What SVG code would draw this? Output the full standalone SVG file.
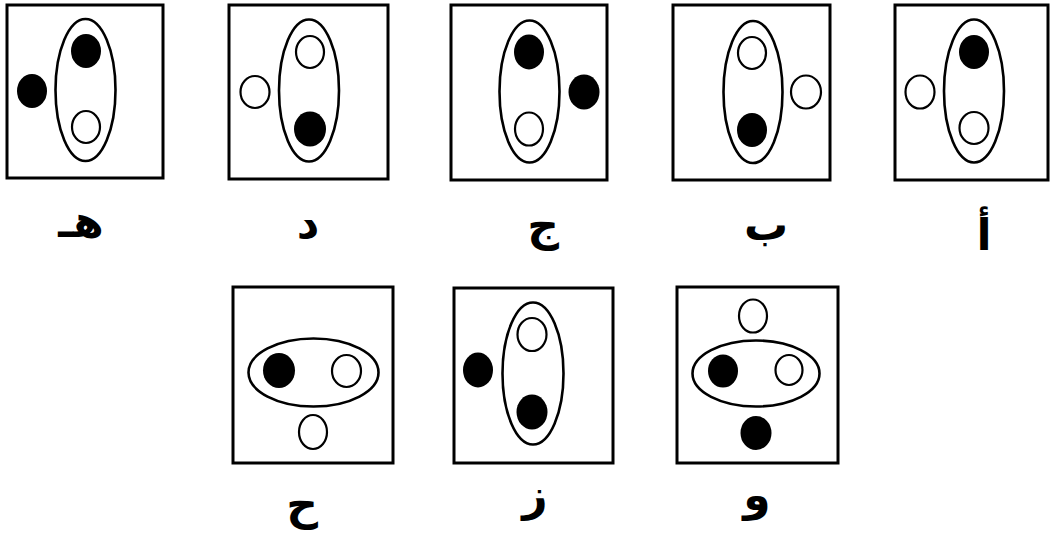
<svg xmlns="http://www.w3.org/2000/svg" width="1050" height="540" viewBox="0 0 1050 540">
<style>
.box{fill:#fff;stroke:#000;stroke-width:3}
.ring{fill:none;stroke:#000;stroke-width:2.6}
.o{fill:#fff;stroke:#000;stroke-width:2.2}
.f{fill:#000}
.lbl{font-family:"DejaVu Sans",sans-serif;font-weight:bold;font-size:44px;text-anchor:middle;fill:#000}
</style>
<rect width="1050" height="540" fill="#fff"/>
<g id="node-he">
<rect class="box" x="7" y="5" width="156" height="173"/>
<ellipse class="ring" cx="85.5" cy="90" rx="30" ry="71"/>
<ellipse class="f" cx="86" cy="51" rx="15" ry="17"/>
<ellipse class="o" cx="86" cy="127" rx="14" ry="16"/>
<ellipse class="f" cx="32" cy="91" rx="15" ry="17"/>
<text class="lbl" x="81" y="237">هـ</text>
</g>
<g id="node-dal">
<rect class="box" x="229" y="5" width="159" height="174"/>
<ellipse class="ring" cx="309" cy="90.5" rx="30" ry="71"/>
<ellipse class="o" cx="310" cy="52" rx="14" ry="16"/>
<ellipse class="f" cx="310" cy="129" rx="16" ry="17.5"/>
<ellipse class="o" cx="255" cy="92" rx="14.5" ry="16"/>
<text class="lbl" x="308" y="238">د</text>
</g>
<g id="node-jim">
<rect class="box" x="451" y="5" width="156" height="175"/>
<ellipse class="ring" cx="529.5" cy="91.5" rx="30" ry="71"/>
<ellipse class="f" cx="529" cy="52" rx="15" ry="17.5"/>
<ellipse class="o" cx="529" cy="129" rx="14" ry="16.5"/>
<ellipse class="f" cx="584" cy="92" rx="15.5" ry="17.5"/>
<text class="lbl" x="543" y="240">ج</text>
</g>
<g id="node-ba">
<rect class="box" x="673" y="5" width="157" height="175"/>
<ellipse class="ring" cx="753" cy="92" rx="29.5" ry="71"/>
<ellipse class="o" cx="752" cy="53" rx="14" ry="16"/>
<ellipse class="f" cx="752" cy="130" rx="15" ry="17"/>
<ellipse class="o" cx="806" cy="92" rx="15" ry="16.5"/>
<text class="lbl" x="766" y="240">ب</text>
</g>
<g id="node-alef">
<rect class="box" x="895" y="5" width="153" height="175"/>
<ellipse class="ring" cx="974" cy="91" rx="30" ry="71.5"/>
<ellipse class="f" cx="974" cy="52" rx="15" ry="17"/>
<ellipse class="o" cx="974" cy="128" rx="14.5" ry="16"/>
<ellipse class="o" cx="920" cy="92" rx="14.5" ry="16.5"/>
<text class="lbl" x="984" y="250">أ</text>
</g>
<g id="node-ha">
<rect class="box" x="233" y="287" width="160" height="176"/>
<ellipse class="ring" cx="313.5" cy="372.5" rx="65" ry="34"/>
<ellipse class="f" cx="279" cy="370.5" rx="16" ry="17.5"/>
<ellipse class="o" cx="346.5" cy="371" rx="14.5" ry="16"/>
<ellipse class="o" cx="313" cy="432" rx="14" ry="17"/>
<text class="lbl" x="302" y="519">ح</text>
</g>
<g id="node-zay">
<rect class="box" x="454" y="288" width="159" height="175"/>
<ellipse class="ring" cx="533" cy="373.5" rx="30.5" ry="71"/>
<ellipse class="o" cx="532" cy="334.5" rx="14.5" ry="16.5"/>
<ellipse class="f" cx="532" cy="412" rx="15.5" ry="17.5"/>
<ellipse class="f" cx="478" cy="370" rx="15" ry="17.5"/>
<text class="lbl" x="535" y="510">ز</text>
</g>
<g id="node-waw">
<rect class="box" x="677" y="287" width="161" height="176"/>
<ellipse class="ring" cx="756" cy="373.5" rx="63.5" ry="33"/>
<ellipse class="f" cx="723" cy="371" rx="15" ry="16.5"/>
<ellipse class="o" cx="789" cy="370" rx="13.5" ry="15"/>
<ellipse class="o" cx="753" cy="316" rx="14" ry="16.5"/>
<ellipse class="f" cx="756" cy="433" rx="15.5" ry="17"/>
<text class="lbl" x="757" y="510">و</text>
</g>
<g id="connectors"></g>
</svg>
